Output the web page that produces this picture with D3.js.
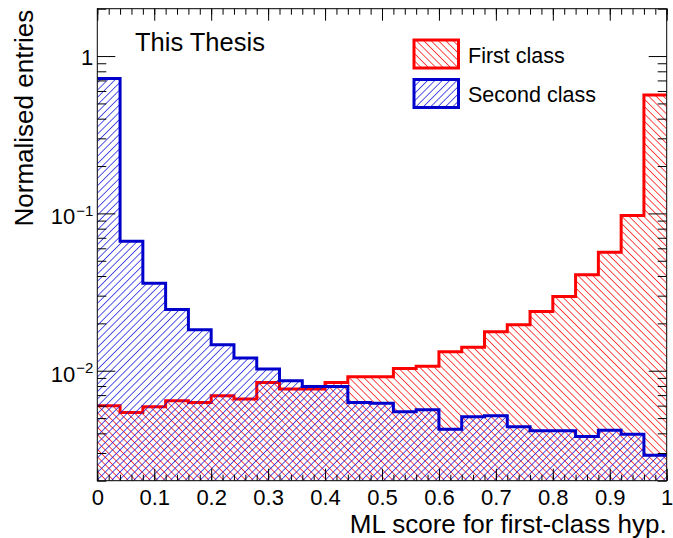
<!DOCTYPE html>
<html>
<head>
<meta charset="utf-8">
<script src="https://cdn.jsdelivr.net/npm/d3@7"></script>
<style>
  html, body { margin: 0; padding: 0; background: #fff; }
  svg { display: block; }
  text { font-family: "Liberation Sans", Arial, Helvetica, sans-serif; fill: #000; }
</style>
</head>
<body>
<svg id="chart" width="673" height="538"></svg>
<script>
// ---------------- data ----------------
const binEdges = [0, 0.04, 0.08, 0.12, 0.16, 0.20, 0.24, 0.28, 0.32, 0.36, 0.40, 0.44, 0.48,
                  0.52, 0.56, 0.60, 0.64, 0.68, 0.72, 0.76, 0.80, 0.84, 0.88, 0.92, 0.96, 1.00];
const firstClass = [0.00598, 0.00543, 0.0059, 0.00644, 0.00628, 0.00693, 0.0066, 0.00843,
                    0.00764, 0.00764, 0.00843, 0.00916, 0.00916, 0.01035, 0.01066, 0.0132,
                    0.0141, 0.0177, 0.0196, 0.0238, 0.0296, 0.0407, 0.0567, 0.097, 0.565];
const secondClass = [0.721, 0.0666, 0.036, 0.0245, 0.01824, 0.01465, 0.01205, 0.01025,
                     0.00863, 0.00794, 0.00794, 0.00628, 0.00622, 0.00548, 0.00565, 0.00425,
                     0.00509, 0.00517, 0.0044, 0.00415, 0.00415, 0.00382, 0.00419, 0.00395, 0.0029];
const seriesNames = ["First class", "Second class"];
const xTickValues = [0, 0.1, 0.2, 0.3, 0.4, 0.5, 0.6, 0.7, 0.8, 0.9, 1];
const xTickLabels = ["0", "0.1", "0.2", "0.3", "0.4", "0.5", "0.6", "0.7", "0.8", "0.9", "1"];
const yTickValues = [0.01, 0.1, 1];
const yTickLabels = [["10", "\u22122"], ["10", "\u22121"], ["1", null]];
const xTitle = "ML score for first-class hyp.";
const yTitle = "Normalised entries";
const stamp = "This Thesis";

// ---------------- layout ----------------
const W = 673, H = 538;
const margin = { top: 8.7, right: 6.3, bottom: 57.3, left: 97.3 };
const iw = W - margin.left - margin.right;
const ih = H - margin.top - margin.bottom;
const RED = "#ff0000", BLUE = "#0000cc", BLUE_HATCH = "#1010e0";

const svg = d3.select("#chart");
const defs = svg.append("defs");

function hatch(id, color, angle) {
  const p = defs.append("pattern")
    .attr("id", id)
    .attr("patternUnits", "userSpaceOnUse")
    .attr("width", 5.2).attr("height", 5.2)
    .attr("patternTransform", `rotate(${angle})`);
  p.append("line").attr("x1", 0).attr("y1", -1).attr("x2", 0).attr("y2", 7)
    .attr("stroke", color).attr("stroke-width", 1.4);
}
hatch("hatchRed", RED, -45);
hatch("hatchBlue", BLUE_HATCH, 45);

defs.append("clipPath").attr("id", "plotClip")
  .append("rect").attr("x", 0).attr("y", 0).attr("width", iw).attr("height", ih);

const g = svg.append("g").attr("transform", `translate(${margin.left},${margin.top})`);

const x = d3.scaleLinear().domain([0, 1]).range([0, iw]);
const y = d3.scaleLog().domain([0.002, 2]).range([ih, 0]);

function stepPoints(vals) {
  const pts = [];
  vals.forEach((v, i) => {
    pts.push([x(binEdges[i]), y(v)]);
    pts.push([x(binEdges[i + 1]), y(v)]);
  });
  return pts;
}
const line = d3.line();

const plot = g.append("g").attr("clip-path", "url(#plotClip)");

function drawHist(vals, color, pat) {
  const pts = stepPoints(vals);
  const area = [[x(binEdges[0]), y(0.002)], ...pts, [x(binEdges[binEdges.length - 1]), y(0.002)]];
  plot.append("path").attr("d", line(area) + "Z")
    .attr("fill", `url(#${pat})`).attr("stroke", "none");
  plot.append("path").attr("d", line(pts))
    .attr("fill", "none").attr("stroke", color).attr("stroke-width", 3)
    .attr("stroke-linejoin", "miter");
}
drawHist(firstClass, RED, "hatchRed");
drawHist(secondClass, BLUE, "hatchBlue");

// ---------------- axes ----------------
const xMinor = d3.range(0, 51).map(i => i * 0.02).filter(v => v <= 1.0001);
const axStyle = sel => { sel.select(".domain").remove(); sel.selectAll("line").attr("stroke", "#000"); };

// bottom
g.append("g").attr("transform", `translate(0,${ih})`)
  .call(d3.axisBottom(x).tickValues(xMinor).tickSize(-6).tickFormat(""))
  .call(axStyle);
const xb = g.append("g").attr("transform", `translate(0,${ih})`)
  .call(d3.axisBottom(x).tickValues(xTickValues).tickSize(-12).tickPadding(0)
        .tickFormat((d, i) => xTickLabels[i]))
  .call(axStyle);
xb.selectAll("text").attr("font-size", 22).attr("dy", null).attr("y", 24.3);
// top
g.append("g")
  .call(d3.axisTop(x).tickValues(xMinor).tickSize(-6).tickFormat(""))
  .call(axStyle);
g.append("g")
  .call(d3.axisTop(x).tickValues(xTickValues).tickSize(-12).tickFormat(""))
  .call(axStyle);

const yMinor = y.ticks().filter(v => !yTickValues.some(m => Math.abs(m - v) / m < 1e-6));
// left
g.append("g").call(d3.axisLeft(y).tickValues(yMinor).tickSize(-9).tickFormat("")).call(axStyle);
g.append("g").call(d3.axisLeft(y).tickValues(yTickValues).tickSize(-18).tickFormat("")).call(axStyle);
// right
g.append("g").attr("transform", `translate(${iw},0)`)
  .call(d3.axisRight(y).tickValues(yMinor).tickSize(-9).tickFormat("")).call(axStyle);
g.append("g").attr("transform", `translate(${iw},0)`)
  .call(d3.axisRight(y).tickValues(yTickValues).tickSize(-18).tickFormat("")).call(axStyle);

// y labels
yTickValues.forEach((v, i) => {
  const [base, sup] = yTickLabels[i];
  const t = g.append("text").attr("text-anchor", "end").attr("x", -4)
    .attr("font-size", 22);
  if (sup) {
    t.attr("y", y(v) + 11);
    t.append("tspan").text(base);
    t.append("tspan").attr("font-size", 15).attr("dy", -8.4).attr("dx", 1).text(sup);
  } else {
    t.attr("y", y(v) + 9).text(base);
  }
});

// frame
g.append("rect").attr("x", 0).attr("y", 0).attr("width", iw).attr("height", ih)
  .attr("fill", "none").attr("stroke", "#000").attr("stroke-width", 1);

// titles
svg.append("text").attr("text-anchor", "end")
  .attr("x", margin.left + iw).attr("y", 532.5)
  .attr("font-size", 26).text(xTitle);
svg.append("text").attr("text-anchor", "end")
  .attr("transform", `translate(33,${margin.top + 1}) rotate(-90)`)
  .attr("font-size", 26).text(yTitle);

// stamp
svg.append("text").attr("x", 135).attr("y", 50.7).attr("font-size", 25.5).text(stamp);

// legend
const legend = svg.append("g");
const legItems = [
  { name: seriesNames[0], color: RED, pat: "hatchRed", y0: 40 },
  { name: seriesNames[1], color: BLUE, pat: "hatchBlue", y0: 79.5 }
];
legItems.forEach(d => {
  legend.append("rect").attr("x", 414).attr("y", d.y0).attr("width", 44.5).attr("height", 28)
    .attr("fill", `url(#${d.pat})`).attr("stroke", d.color).attr("stroke-width", 3);
  legend.append("text").attr("x", 468).attr("y", d.y0 + 22.5).attr("font-size", 21.5).text(d.name);
});
</script>
</body>
</html>
